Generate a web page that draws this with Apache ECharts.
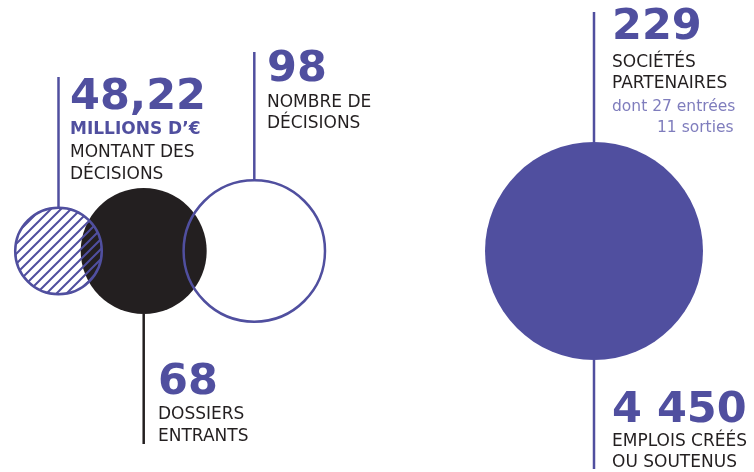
<!DOCTYPE html>
<html>
<head>
<meta charset="utf-8">
<script src="https://cdn.jsdelivr.net/npm/echarts@6/dist/echarts.min.js"></script>
<style>
  html, body { margin: 0; background: #fff; }
  #chart { width: 754px; height: 472px; }
</style>
</head>
<body>
<div id="chart"></div>
<script>
// chiffres clés
const figures = ['48,22', '68', '98', '229', '4 450'];
const values = [48.22, 68, 98, 229, 4450];
const units = ['MILLIONS D\u2019\u20ac', '', '', '', ''];
const captions = [
  ['MONTANT DES', 'DÉCISIONS'],
  ['DOSSIERS', 'ENTRANTS'],
  ['NOMBRE DE', 'DÉCISIONS'],
  ['SOCIÉTÉS', 'PARTENAIRES'],
  ['EMPLOIS CRÉÉS', 'OU SOUTENUS']
];
const notes = [[], [], [], ['dont 27 entrées', '11 sorties'], []];

const PURPLE = '#504f9f';
const DARK = '#231f20';
const NOTE = '#7f7dbd';

// mise en page (unités d'axe = px) : centre du cercle, rayon, trait et bloc de texte
const layout = [
  {cx: 58.5, cy: 251, r: 43.3, fill: 'hatch', edge: 43.3, lineEnd: 77, line: PURPLE, tx: 70, numBase: 113.3, capBase: 136, z: 2},
  {cx: 143.7, cy: 251, r: 63, fill: DARK, edge: 63, lineEnd: 444, line: DARK, tx: 158, numBase: 398.3, capBase: 420.7, z: 1},
  {cx: 254.3, cy: 251, r: 70.7, fill: 'none', edge: 70.7, lineEnd: 52, line: PURPLE, tx: 267, numBase: 85, capBase: 108.3, z: 3},
  {cx: 594, cy: 251, r: 109, fill: PURPLE, edge: 109, lineEnd: 12, line: PURPLE, tx: 612, numBase: 43.3, capBase: 68.3, z: 1},
  {cx: 594, cy: 251, r: 0, fill: 'none', edge: 109, lineEnd: 469, line: PURPLE, tx: 612, numBase: 426, capBase: 447.3, z: 1}
];
const noteIndent = [0, 45];
const LINE_STEP = 21.7;

// motif hachuré
function hatchPattern() {
  const c = document.createElement('canvas');
  c.width = 10; c.height = 10;
  const ctx = c.getContext('2d');
  ctx.strokeStyle = PURPLE;
  ctx.lineWidth = 2;
  ctx.beginPath();
  ctx.moveTo(-1, 11); ctx.lineTo(11, -1);
  ctx.moveTo(-1, 1); ctx.lineTo(1, -1);
  ctx.moveTo(9, 11); ctx.lineTo(11, 9);
  ctx.stroke();
  return {image: c, repeat: 'repeat'};
}
const hatch = hatchPattern();

// texte posé sur sa ligne de base
function textAt(x, base, text, size, weight, color) {
  return {
    type: 'text',
    x: x,
    y: base - 0.85 * size,
    z2: 10,
    style: {
      text: text,
      fill: color,
      fontSize: size,
      fontWeight: weight,
      fontFamily: '"DejaVu Sans"',
      align: 'left',
      verticalAlign: 'top'
    }
  };
}

let chart = echarts.init(document.getElementById('chart'));

chart.setOption({
  animation: false,
  grid: {left: 0, right: 0, top: 0, bottom: 0},
  xAxis: {type: 'value', min: 0, max: 754, show: false},
  yAxis: {type: 'value', min: 0, max: 472, inverse: true, show: false},
  series: [{
    type: 'custom',
    coordinateSystem: 'cartesian2d',
    data: values.map((v, i) => [layout[i].cx, layout[i].cy, v]),
    renderItem: function (params, api) {
      const i = params.dataIndex;
      const L = layout[i];
      const c = api.coord([api.value(0), api.value(1)]);
      const children = [];

      if (L.r) {
        let style;
        if (L.fill === 'hatch') {
          style = {fill: hatch, stroke: PURPLE, lineWidth: 2.5};
        } else if (L.fill === 'none') {
          style = {fill: 'none', stroke: PURPLE, lineWidth: 2.5};
        } else {
          style = {fill: L.fill};
        }
        children.push({type: 'circle', z2: L.z, shape: {cx: c[0], cy: c[1], r: L.r}, style: style});
      }

      // trait vertical
      const endY = api.coord([0, L.lineEnd])[1];
      const dir = endY < c[1] ? -1 : 1;
      children.push({
        type: 'line', z2: 0,
        shape: {x1: c[0], y1: c[1] + dir * L.edge, x2: c[0], y2: endY},
        style: {stroke: L.line, lineWidth: 2.5}
      });

      // bloc de texte
      const tx = api.coord([L.tx, 0])[0];
      const yb = v => api.coord([0, v])[1];
      children.push(textAt(tx, yb(L.numBase), figures[i], 43, 'bold', PURPLE));
      let base = L.capBase;
      if (units[i]) {
        children.push(textAt(tx, yb(base), units[i], 17, 'bold', PURPLE));
        base += LINE_STEP + 1;
      }
      captions[i].forEach(t => {
        children.push(textAt(tx, yb(base), t, 17, 'normal', DARK));
        base += LINE_STEP;
      });
      notes[i].forEach((t, k) => {
        children.push(textAt(tx + noteIndent[k], yb(base), t, 15.5, 'normal', NOTE));
        base += LINE_STEP;
      });

      return {type: 'group', children: children};
    }
  }]
});
</script>
</body>
</html>
